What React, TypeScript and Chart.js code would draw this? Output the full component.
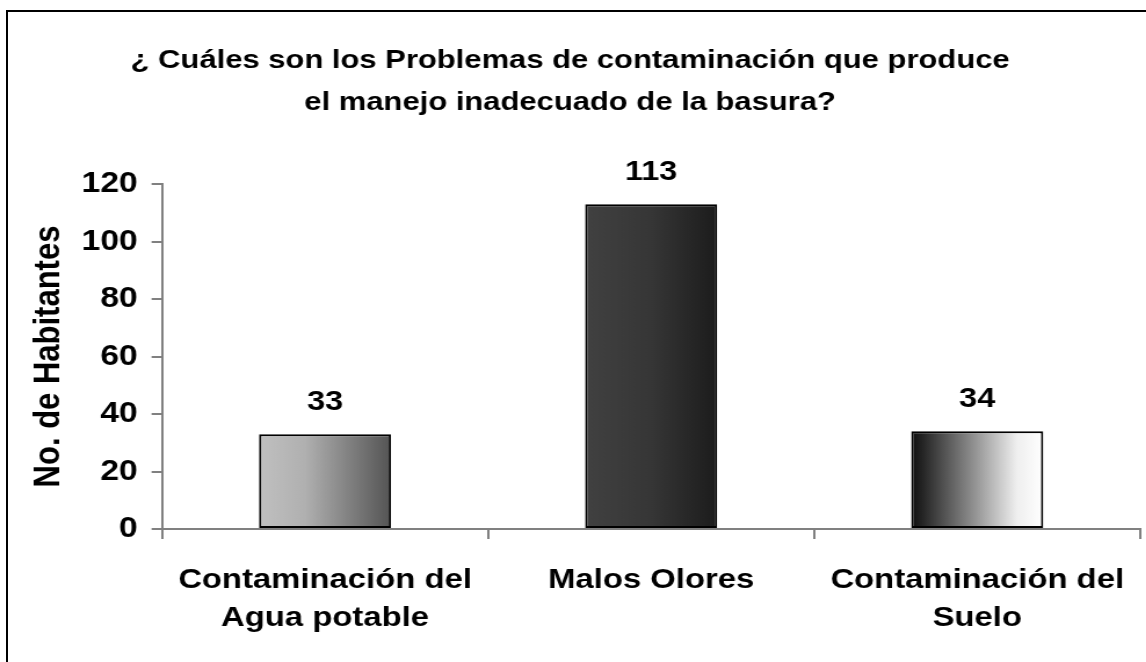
import React, { useEffect, useRef } from "react";
import { Chart, registerables } from "chart.js";

Chart.register(...registerables);

const titleLines = ["¿ Cuáles son los Problemas de contaminación que produce", "el manejo inadecuado de la basura?"];
const categories = [["Contaminación del", "Agua potable"], ["Malos Olores"], ["Contaminación del", "Suelo"]];
const habitantes = [33, 113, 34];
const yTitle = "No. de Habitantes";
const yMin = 0;
const yMax = 120;
const yStep = 20;

const gradientStops: [number, string][][] = [
  [[0, "#c0c0c0"], [0.35, "#b0b0b0"], [1, "#545454"]],
  [[0, "#414141"], [0.5, "#363636"], [1, "#1c1c1c"]],
  [[0, "#0d0d0d"], [0.45, "#8a8a8a"], [0.8, "#efefef"], [1, "#ffffff"]],
];

const STRETCH = 1.16;
const CW = Math.round(1146 / STRETCH);
const CH = 662;
const FONT = "'Liberation Sans', Arial, sans-serif";
const BAR_FRAC = 0.405;

export default function App() {
  const ref = useRef<HTMLCanvasElement>(null);
  useEffect(() => {
    if (!ref.current) return;
    const dataLabels = {
      id: "dataLabels",
      afterDatasetsDraw(chart: any) {
        const ctx = chart.ctx;
        const meta = chart.getDatasetMeta(0);
        ctx.save();
        ctx.font = `bold 28px ${FONT}`;
        ctx.fillStyle = "#000";
        ctx.textAlign = "center";
        ctx.textBaseline = "middle";
        meta.data.forEach((el: any, i: number) => {
          ctx.fillText(String(habitantes[i]), el.x, el.y - 32);
        });
        ctx.restore();
      },
    };
    const chart = new Chart(ref.current, {
      type: "bar",
      data: {
        labels: categories,
        datasets: [
          {
            data: habitantes,
            backgroundColor: (c: any) => {
              const ch = c.chart;
              const xs = ch.scales?.x;
              if (!ch.chartArea || !xs) return "#888";
              const cx = xs.getPixelForValue(c.dataIndex);
              const half = (xs.width / categories.length) * BAR_FRAC / 2;
              const g = ch.ctx.createLinearGradient(cx - half, 0, cx + half, 0);
              const stops = gradientStops[c.dataIndex % gradientStops.length];
              stops.forEach(([p, s]) => g.addColorStop(p, s));
              return g;
            },
            borderColor: "#000",
            borderWidth: 2,
            borderSkipped: false,
            barPercentage: BAR_FRAC,
            categoryPercentage: 1,
          },
        ],
      },
      options: {
        responsive: false,
        animation: false,
        layout: { padding: { left: 0, right: 5, top: 0, bottom: 0 } },
        plugins: {
          legend: { display: false },
          tooltip: { enabled: false },
          title: {
            display: true,
            text: titleLines,
            color: "#000",
            font: { family: FONT, size: 26.7, weight: "bold", lineHeight: "42px" },
            padding: { top: 40, bottom: 60 },
          },
        },
        scales: {
          x: {
            offset: true,
            grid: {
              offset: true,
              drawOnChartArea: false,
              drawTicks: true,
              tickLength: 10,
              color: "#808080",
              lineWidth: 2,
            },
            border: { color: "#808080", width: 2 },
            ticks: {
              color: "#000",
              padding: 22,
              maxRotation: 0,
              autoSkip: false,
              font: { family: FONT, size: 28.3, weight: "bold", lineHeight: "38px" },
            },
            afterFit: (s: any) => {
              s.height = CH - 529;
              s.paddingLeft = 0;
              s.paddingRight = 0;
            },
          },
          y: {
            min: yMin,
            max: yMax,
            ticks: {
              stepSize: yStep,
              color: "#000",
              padding: 12,
              font: { family: FONT, size: 29, weight: "bold" },
            },
            grid: {
              drawOnChartArea: false,
              drawTicks: true,
              tickLength: 9,
              color: "#808080",
              lineWidth: 2,
            },
            border: { color: "#808080", width: 2 },
            title: {
              display: true,
              text: yTitle,
              color: "#000",
              font: { family: FONT, size: 31, weight: "bold" },
              padding: { top: 24, bottom: 0 },
            },
            afterFit: (s: any) => {
              s.width = 162 / STRETCH;
            },
          },
        },
      },
      plugins: [dataLabels],
    });
    return () => chart.destroy();
  }, []);

  return (
    <div
      style={{
        position: "fixed",
        left: 0,
        top: 0,
        width: 1146,
        height: 662,
        overflow: "hidden",
        background: "#fff",
      }}
    >
      <div
        style={{
          position: "absolute",
          left: 6,
          top: 10,
          width: 1200,
          height: 700,
          borderTop: "2px solid #000",
          borderLeft: "2px solid #000",
        }}
      />
      <div
        style={{
          position: "absolute",
          left: 0,
          top: 0,
          width: CW,
          height: CH,
          transform: `scaleX(${STRETCH})`,
          transformOrigin: "0 0",
        }}
      >
        <canvas ref={ref} width={CW} height={CH} style={{ width: CW, height: CH, display: "block" }} />
      </div>
    </div>
  );
}
